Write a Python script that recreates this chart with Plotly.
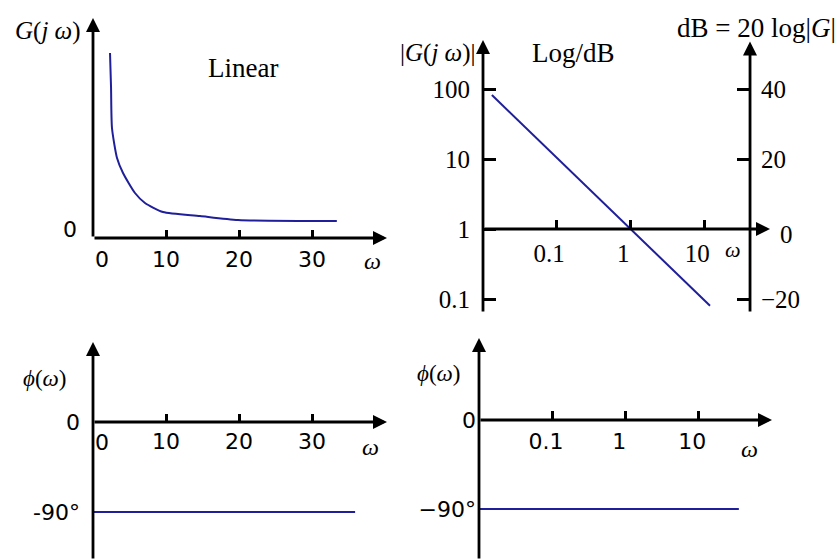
import numpy as np
import plotly.graph_objects as go

# ---------------- data ----------------
# Linear-scale magnitude curve (top-left)
lin_omega = [2.33, 2.47, 2.60, 3.29, 4.11, 5.75, 7.12, 9.59, 14.66, 19.86, 33.4]
lin_mag = [18.5, 15.1, 11.0, 8.0, 6.5, 4.5, 3.5, 2.6, 2.2, 1.8, 1.7]

# Log-scale magnitude line (top-right)
log_omega = [0.0135, 12.0]
log_mag = [82.0, 0.08]

# Phase lines
phase_lin_omega = [0.0, 35.9]
phase_lin = [-90.0, -90.0]
phase_log_omega = [0.01, 36.0]
phase_log = [-90.0, -90.0]

# tick labels
lin_ticks = [10, 20, 30]
lin_ticktext = ["10", "20", "30"]
log_xticks = [0.1, 1, 10]
log_xticktext = ["0.1", "1", "10"]
mag_yticks = [0.1, 1, 10, 100]
mag_yticktext = ["0.1", "1", "10", "100"]
db_ticks = [-20, 20, 40]
db_ticktext = ["\u221220", "20", "40"]
phase_ticks = [0, -90]
phase_ticktext_lin = ["0", "-90\u00b0"]
phase_ticktext_log = ["0", "\u221290\u00b0"]

# ---------------- layout helpers ----------------
W, H = 840, 560
def px(x):
    return x / W
def py(y):
    return 1 - y / H

BLUE = "#1f1f99"
SERIF = "Liberation Serif"
SANS = "DejaVu Sans"

fig = go.Figure()

fig.add_trace(go.Scatter(x=lin_omega, y=lin_mag, mode="lines",
                         line=dict(color=BLUE, width=2, shape="spline", smoothing=0.6),
                         xaxis="x", yaxis="y",
                         showlegend=False, hoverinfo="skip"))
fig.add_trace(go.Scatter(x=log_omega, y=log_mag, mode="lines",
                         line=dict(color=BLUE, width=2), xaxis="x2", yaxis="y2",
                         showlegend=False, hoverinfo="skip"))
fig.add_trace(go.Scatter(x=[], y=[], mode="lines", xaxis="x2", yaxis="y3",
                         showlegend=False, hoverinfo="skip"))
fig.add_trace(go.Scatter(x=phase_lin_omega, y=phase_lin, mode="lines",
                         line=dict(color=BLUE, width=2), xaxis="x3", yaxis="y4",
                         showlegend=False, hoverinfo="skip"))
fig.add_trace(go.Scatter(x=phase_log_omega, y=phase_log, mode="lines",
                         line=dict(color=BLUE, width=2), xaxis="x4", yaxis="y5",
                         showlegend=False, hoverinfo="skip"))

common = dict(showgrid=False, zeroline=False, showline=False, fixedrange=True)

# ranges
X1 = [0, 40.27]
Y1 = [0, 22.0]
X2 = [-1.99, 1.89]     # log10
Y2 = [-1.2, 2.7]       # log10
Y3 = [-24, 54]
X3 = [0, 40.27]
Y4 = [-138, 80]
X4 = [-2.0, 2.01]      # log10
Y5 = [-141.6, 82.9]

tickstyle = dict(ticks="inside", tickwidth=2.5, tickcolor="black")

fig.update_layout(
    width=W, height=H, margin=dict(l=0, r=0, t=0, b=0),
    paper_bgcolor="white", plot_bgcolor="rgba(0,0,0,0)",
    xaxis=dict(domain=[px(93), px(387)], range=X1, anchor="y",
               tickvals=lin_ticks, ticktext=lin_ticktext, ticklen=8,
               tickfont=dict(family=SANS, size=22, color="black"),
               ticklabelstandoff=6, **tickstyle, **common),
    yaxis=dict(domain=[py(238), py(18)], range=Y1, anchor="x",
               showticklabels=False, ticks="", **common),
    xaxis2=dict(domain=[px(483), px(770)], range=X2, type="log",
                anchor="free", position=py(229),
                tickvals=log_xticks, ticktext=log_xticktext, ticklen=9,
                tickfont=dict(family=SERIF, size=25, color="black"),
                ticklabelstandoff=7, ticklabelshift=-7, **tickstyle, **common),
    yaxis2=dict(domain=[py(313), py(40)], range=Y2, type="log", anchor="x2",
                tickvals=mag_yticks, ticktext=mag_yticktext, ticklen=13,
                tickfont=dict(family=SERIF, size=25, color="black"),
                ticklabelstandoff=12, **tickstyle, **common),
    yaxis3=dict(range=Y3, overlaying="y2", side="right", anchor="free",
                position=px(750), tickvals=db_ticks, ticktext=db_ticktext,
                ticklen=13, tickfont=dict(family=SERIF, size=25, color="black"),
                ticklabelstandoff=10, **tickstyle, **common),
    xaxis3=dict(domain=[px(93), px(387)], range=X3, anchor="free",
                position=py(422), tickvals=lin_ticks, ticktext=lin_ticktext,
                ticklen=8, tickfont=dict(family=SANS, size=22, color="black"),
                ticklabelstandoff=4, **tickstyle, **common),
    yaxis4=dict(domain=[0, py(342)], range=Y4, anchor="x3",
                tickvals=phase_ticks, ticktext=phase_ticktext_lin, ticks="",
                tickfont=dict(family=SANS, size=22, color="black"),
                ticklabelstandoff=12, **common),
    xaxis4=dict(domain=[px(479), px(772)], range=X4, type="log",
                anchor="free", position=py(420),
                tickvals=log_xticks, ticktext=log_xticktext, ticklen=9,
                tickfont=dict(family=SANS, size=22, color="black"),
                ticklabelstandoff=6, ticklabelshift=-6, **tickstyle, **common),
    yaxis5=dict(domain=[0, py(338)], range=Y5, anchor="x4",
                tickvals=phase_ticks, ticktext=phase_ticktext_log, ticks="",
                tickfont=dict(family=SANS, size=22, color="black"),
                ticklabelstandoff=2, **common),
)

anns = []

def arrow(xr, yr, tail, tip, head=True):
    anns.append(dict(xref=xr, yref=yr, axref=xr, ayref=yr,
                     x=tip[0], y=tip[1], ax=tail[0], ay=tail[1], text="",
                     showarrow=True, arrowhead=2 if head else 0,
                     arrowsize=1, arrowwidth=2.8, arrowcolor="black",
                     standoff=0, startstandoff=0))

# panel 1 axes
arrow("x", "y", (0, 0), (0, Y1[1]))
arrow("x", "y", (0, 0), (X1[1], 0))
# panel 2 axes (log coordinates)
arrow("x2", "y2", (X2[0], Y2[0]), (X2[0], Y2[1]))
arrow("x2", "y2", (X2[0], 0), (X2[1], 0))
XR = 1.62
arrow("x2", "y2", (XR, Y2[0]), (XR, 2.68))
# panel 3 axes
arrow("x3", "y4", (0, Y4[0]), (0, Y4[1]))
arrow("x3", "y4", (0, 0), (X3[1], 0))
# panel 4 axes
arrow("x4", "y5", (X4[0], Y5[0]), (X4[0], Y5[1]))
arrow("x4", "y5", (X4[0], 0), (X4[1], 0))

def text(x, y, t, size, family=SERIF, xanchor="center", yanchor="middle",
         xref="paper", yref="paper", xshift=0, yshift=0):
    anns.append(dict(x=x, y=y, xref=xref, yref=yref, text=t, showarrow=False,
                     xanchor=xanchor, yanchor=yanchor, xshift=xshift,
                     yshift=yshift,
                     font=dict(family=family, size=size, color="black")))

OMEGA = "<i>\u03c9</i>"
# panel 1 texts
text(px(13), py(31), "<i>G</i>(<i>j</i> <i>\u03c9</i>)", 25, xanchor="left")
text(px(243), py(68), "Linear", 27)
text(1.2, 0, "0", 22, family=SANS, xref="x", yref="y", yshift=-21)
text(0, 0, "0", 22, family=SANS, xref="x", yref="y", xanchor="right",
     xshift=-14, yshift=9)
text(px(372), py(261), OMEGA, 24)
# panel 2 texts
text(px(398), py(53), "|<i>G</i>(<i>j</i> <i>\u03c9</i>)|", 25, xanchor="left")
text(px(573), py(53), "Log/dB", 27)
text(px(838), py(28), "dB = 20 log|<i>G</i>|", 27, xanchor="right")
text(px(733), py(250), OMEGA, 22)
text(px(786), 0, "0", 25, yref="y3", yshift=-5)
# panel 3 texts
text(px(45), py(378), "<i>\u03d5</i>(<i>\u03c9</i>)", 23)
text(1.2, 0, "0", 22, family=SANS, xref="x3", yref="y4", yshift=-20)
text(px(370), py(447), OMEGA, 24)
# panel 4 texts
text(px(439), py(373), "<i>\u03d5</i>(<i>\u03c9</i>)", 23)
text(px(749), py(449), OMEGA, 24)

fig.update_layout(annotations=anns)

fig.write_html("out.html")
